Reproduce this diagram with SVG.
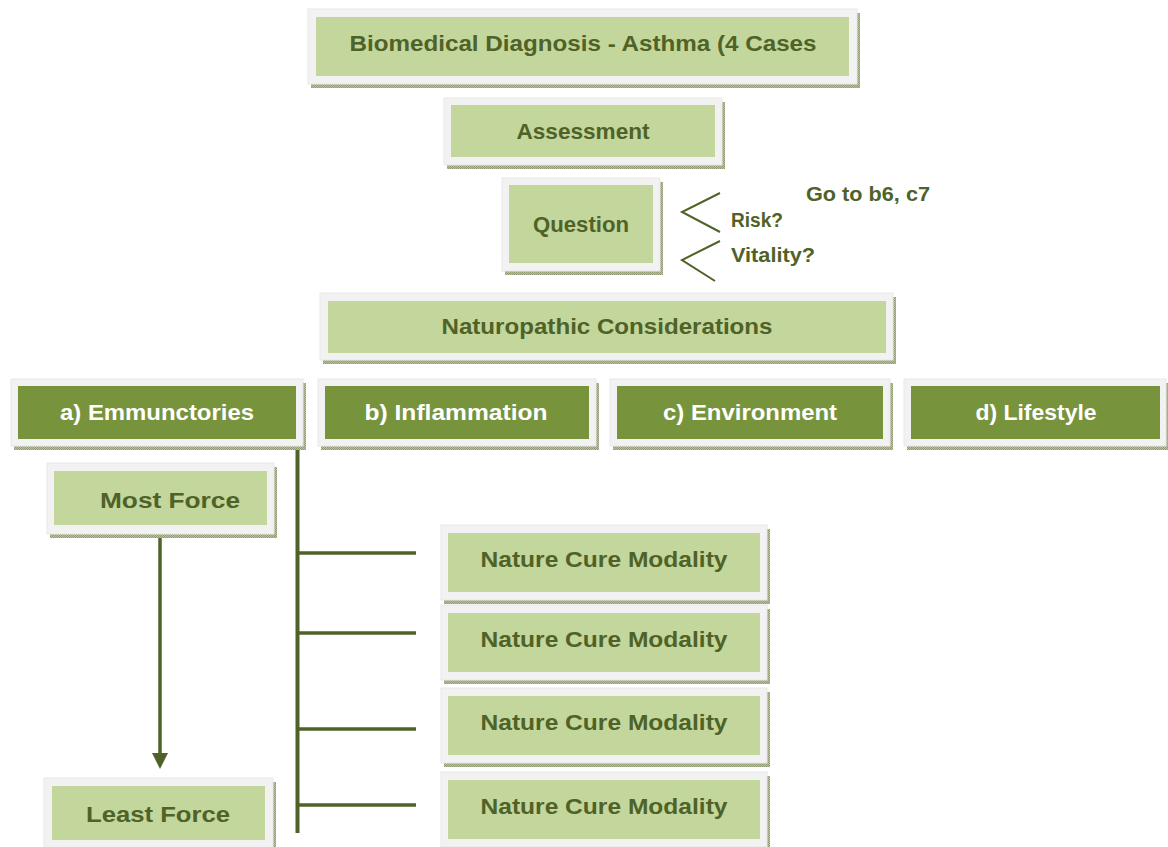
<svg xmlns="http://www.w3.org/2000/svg" width="1168" height="847" viewBox="0 0 1168 847">
  <defs>
    <!-- speckled drop shadow texture -->
    <pattern id="speckle" width="2" height="2" patternUnits="userSpaceOnUse">
      <rect width="2" height="2" fill="#b9bfa3"/>
      <rect width="1" height="1" fill="#929d74"/>
      <rect x="1" y="1" width="1" height="1" fill="#929d74"/>
    </pattern>
  </defs>
  <style>
    .shadow { fill: url(#speckle); }
    .frame { fill: #f2f2f2; stroke: #e8e8e8; stroke-width: 1; }
    .light { fill: #c3d69b; }
    .dark { fill: #77933c; }
    .t { font-family: "Liberation Sans", Arial, sans-serif; font-weight: bold; text-anchor: middle; }
    .tl { fill: #4f6228; font-size: 22px; }
    .tw { fill: #ffffff; font-size: 22px; }
    .note { font-family: "Liberation Sans", Arial, sans-serif; font-weight: bold; fill: #4f6228; font-size: 20px; }
    .conn { stroke: #4f6228; fill: none; }
    .head { fill: #4f6228; }
  </style>
  <rect width="1168" height="847" fill="#ffffff"/>

  <!-- connectors -->
  <g id="connectors">
    <line class="conn" x1="160" y1="537" x2="160" y2="756" stroke-width="3.5"/>
    <polygon class="head" points="152,753 168,753 160,769"/>
    <line class="conn" x1="297.5" y1="446" x2="297.5" y2="833" stroke-width="4"/>
    <line class="conn" x1="296" y1="553" x2="416" y2="553" stroke-width="3.5"/>
    <line class="conn" x1="296" y1="633" x2="416" y2="633" stroke-width="3.5"/>
    <line class="conn" x1="296" y1="729" x2="416" y2="729" stroke-width="3.5"/>
    <line class="conn" x1="296" y1="805" x2="416" y2="805" stroke-width="3.5"/>
    <polyline class="conn" points="720,193 682,212 720,232" stroke-width="2"/>
    <polyline class="conn" points="720,241 682,260 715,281" stroke-width="2"/>
  </g>

  <g id="diagnosis">
    <rect class="shadow" x="311" y="13" width="549" height="75"/>
    <rect class="frame" x="308" y="9" width="549" height="75"/>
    <rect class="light" x="316" y="17" width="533" height="59"/>
    <text class="t tl" x="583" y="51" textLength="467" lengthAdjust="spacingAndGlyphs">Biomedical Diagnosis - Asthma (4 Cases</text>
  </g>

  <g id="assessment">
    <rect class="shadow" x="447" y="102" width="278" height="67"/>
    <rect class="frame" x="444" y="98" width="278" height="67"/>
    <rect class="light" x="451" y="105" width="264" height="52"/>
    <text class="t tl" x="583" y="139" textLength="133" lengthAdjust="spacingAndGlyphs">Assessment</text>
  </g>

  <g id="question">
    <rect class="shadow" x="505" y="182" width="158" height="93"/>
    <rect class="frame" x="502" y="178" width="158" height="93"/>
    <rect class="light" x="509" y="185" width="144" height="78"/>
    <text class="t tl" x="581" y="232" textLength="96" lengthAdjust="spacingAndGlyphs">Question</text>
  </g>

  <g id="question-notes">
    <text class="note" x="806" y="201" textLength="124" lengthAdjust="spacingAndGlyphs">Go to b6, c7</text>
    <text class="note" x="731" y="227" textLength="52" lengthAdjust="spacingAndGlyphs">Risk?</text>
    <text class="note" x="731" y="262" textLength="84" lengthAdjust="spacingAndGlyphs">Vitality?</text>
  </g>

  <g id="considerations">
    <rect class="shadow" x="323" y="297" width="573" height="67"/>
    <rect class="frame" x="320" y="293" width="573" height="67"/>
    <rect class="light" x="328" y="301" width="558" height="52"/>
    <text class="t tl" x="607" y="334" textLength="331" lengthAdjust="spacingAndGlyphs">Naturopathic Considerations</text>
  </g>

  <g id="emmunctories">
    <rect class="shadow" x="14" y="383" width="292" height="67"/>
    <rect class="frame" x="11" y="379" width="292" height="67"/>
    <rect class="dark" x="18" y="386" width="278" height="53"/>
    <text class="t tw" x="157" y="420" textLength="194" lengthAdjust="spacingAndGlyphs">a) Emmunctories</text>
  </g>

  <g id="inflammation">
    <rect class="shadow" x="321" y="383" width="278" height="67"/>
    <rect class="frame" x="318" y="379" width="278" height="67"/>
    <rect class="dark" x="325" y="386" width="264" height="53"/>
    <text class="t tw" x="456" y="420" textLength="183" lengthAdjust="spacingAndGlyphs">b) Inflammation</text>
  </g>

  <g id="environment">
    <rect class="shadow" x="613" y="383" width="280" height="67"/>
    <rect class="frame" x="610" y="379" width="280" height="67"/>
    <rect class="dark" x="617" y="386" width="266" height="53"/>
    <text class="t tw" x="750" y="420" textLength="174" lengthAdjust="spacingAndGlyphs">c) Environment</text>
  </g>

  <g id="lifestyle">
    <rect class="shadow" x="907" y="383" width="262" height="67"/>
    <rect class="frame" x="904" y="379" width="262" height="67"/>
    <rect class="dark" x="911" y="386" width="249" height="53"/>
    <text class="t tw" x="1036" y="420" textLength="121" lengthAdjust="spacingAndGlyphs">d) Lifestyle</text>
  </g>

  <g id="most-force">
    <rect class="shadow" x="50" y="467" width="227" height="71"/>
    <rect class="frame" x="47" y="463" width="227" height="71"/>
    <rect class="light" x="54" y="471" width="213" height="54"/>
    <text class="t tl" x="170" y="508" font-size="25" textLength="140" lengthAdjust="spacingAndGlyphs">Most Force</text>
  </g>

  <g id="least-force">
    <rect class="shadow" x="47" y="782" width="229" height="70"/>
    <rect class="frame" x="44" y="778" width="229" height="70"/>
    <rect class="light" x="52" y="786" width="213" height="54"/>
    <text class="t tl" x="158" y="822" font-size="25" textLength="144" lengthAdjust="spacingAndGlyphs">Least Force</text>
  </g>

  <g id="modality-1">
    <rect class="shadow" x="444" y="529" width="326" height="75"/>
    <rect class="frame" x="441" y="525" width="326" height="75"/>
    <rect class="light" x="448" y="533" width="312" height="59"/>
    <text class="t tl" x="604" y="567" textLength="247" lengthAdjust="spacingAndGlyphs">Nature Cure Modality</text>
  </g>

  <g id="modality-2">
    <rect class="shadow" x="444" y="609" width="326" height="75"/>
    <rect class="frame" x="441" y="605" width="326" height="75"/>
    <rect class="light" x="448" y="613" width="312" height="59"/>
    <text class="t tl" x="604" y="647" textLength="247" lengthAdjust="spacingAndGlyphs">Nature Cure Modality</text>
  </g>

  <g id="modality-3">
    <rect class="shadow" x="444" y="692" width="326" height="75"/>
    <rect class="frame" x="441" y="688" width="326" height="75"/>
    <rect class="light" x="448" y="696" width="312" height="59"/>
    <text class="t tl" x="604" y="730" textLength="247" lengthAdjust="spacingAndGlyphs">Nature Cure Modality</text>
  </g>

  <g id="modality-4">
    <rect class="shadow" x="444" y="776" width="326" height="75"/>
    <rect class="frame" x="441" y="772" width="326" height="75"/>
    <rect class="light" x="448" y="780" width="312" height="59"/>
    <text class="t tl" x="604" y="814" textLength="247" lengthAdjust="spacingAndGlyphs">Nature Cure Modality</text>
  </g>
</svg>
